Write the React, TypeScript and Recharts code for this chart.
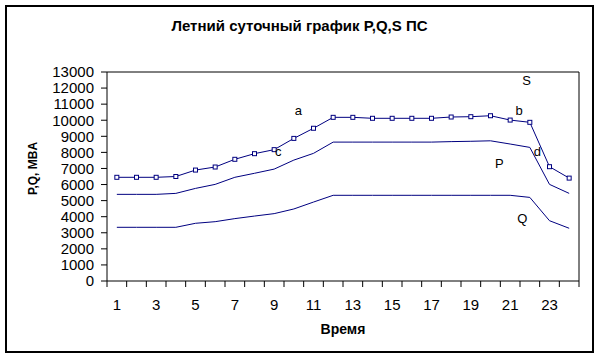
import React from 'react';
import {
    LineChart,
    Line,
    XAxis,
    YAxis,
    ReferenceLine,
    ReferenceDot,
    Label,
} from 'recharts';

// Часы суток
const hours = [1, 2, 3, 4, 5, 6, 7, 8, 9, 10, 11, 12, 13, 14, 15, 16, 17, 18, 19, 20, 21, 22, 23, 24];

// Полная мощность S, МВА
const sValues = [6450, 6450, 6450, 6500, 6900, 7090, 7570, 7920, 8170, 8870, 9500, 10180, 10180, 10120, 10120, 10120, 10120, 10200, 10220, 10280, 10010, 9870, 7110, 6400];
// Активная мощность P
const pValues = [5390, 5390, 5390, 5450, 5760, 6010, 6450, 6700, 6960, 7520, 7940, 8640, 8640, 8640, 8640, 8640, 8640, 8670, 8690, 8720, 8520, 8310, 6010, 5450];
// Реактивная мощность Q
const qValues = [3340, 3340, 3340, 3340, 3590, 3690, 3880, 4040, 4190, 4480, 4910, 5330, 5330, 5330, 5330, 5330, 5330, 5330, 5330, 5330, 5330, 5200, 3750, 3280];

const yTicks = [0, 1000, 2000, 3000, 4000, 5000, 6000, 7000, 8000, 9000, 10000, 11000, 12000, 13000];
const hourLabels = [1, 3, 5, 7, 9, 11, 13, 15, 17, 19, 21, 23];
// границы часовых интервалов (штрихи на оси)
const hourBounds = [0.5, 1.5, 2.5, 3.5, 4.5, 5.5, 6.5, 7.5, 8.5, 9.5, 10.5, 11.5, 12.5, 13.5, 14.5, 15.5, 16.5, 17.5, 18.5, 19.5, 20.5, 21.5, 22.5, 23.5, 24.5];

// подписи на поле графика
const noteText = ['a', 'c', 'S', 'b', 'd', 'P', 'Q'];
const noteHour = [10.23, 9.21, 21.84, 21.45, 22.38, 20.45, 21.62];
const noteValue = [10590, 8040, 12500, 10590, 8040, 7320, 3900];

const FONT = 'Arial, "Liberation Sans", sans-serif';
const NAVY = '#000080';

const chartData = hours.map((hour, i) => ({
    hour,
    s: sValues[i],
    p: pValues[i],
    q: qValues[i],
}));

// квадратный маркер
const SquareDot = (props: any) => {
    const { cx, cy } = props;
    if (cx == null || cy == null) return null;
    return <rect x={cx - 2} y={cy - 2} width={4} height={4} fill="#fff" stroke={NAVY} strokeWidth={1} />;
};

export default function App() {
    return (
        <div style={{ position: 'absolute', left: 0, top: 0, width: 599, height: 356, background: '#fff', fontFamily: FONT }}>
            <div
                style={{
                    position: 'absolute',
                    left: 5,
                    top: 5,
                    width: 589,
                    height: 348,
                    border: '2px solid #000',
                    boxSizing: 'border-box',
                }}
            />
            <div
                style={{
                    position: 'absolute',
                    left: 0,
                    top: 18,
                    width: 599,
                    textAlign: 'center',
                    fontSize: 15,
                    lineHeight: '15px',
                    fontWeight: 'bold',
                    color: '#000',
                }}
            >
                Летний суточный график P,Q,S ПС
            </div>

            <div style={{ position: 'absolute', left: 0, top: 0 }}>
                <LineChart width={599} height={356} data={chartData} margin={{ top: 72, right: 20, left: 0, bottom: 0 }}>
                    <XAxis
                        xAxisId="bounds"
                        type="number"
                        dataKey="hour"
                        domain={[0.5, 24.5]}
                        ticks={hourBounds}
                        interval={0}
                        height={7}
                        tickSize={6}
                        tick={() => <g />}
                        axisLine={{ stroke: '#000' }}
                        tickLine={{ stroke: '#000' }}
                    />
                    <XAxis
                        xAxisId="hours"
                        type="number"
                        dataKey="hour"
                        domain={[0.5, 24.5]}
                        ticks={hourLabels}
                        interval={0}
                        height={68}
                        tickSize={6}
                        tickMargin={5}
                        axisLine={false}
                        tickLine={false}
                        tick={{ fill: '#000', fontSize: 15, fontFamily: FONT }}
                    >
                        <Label
                            content={(props: any) => {
                                const vb = props.viewBox;
                                return (
                                    <text
                                        x={vb.x + vb.width / 2}
                                        y={vb.y + 46}
                                        textAnchor="middle"
                                        fontSize={14}
                                        fontWeight="bold"
                                        fontFamily={FONT}
                                        fill="#000"
                                    >
                                        Время
                                    </text>
                                );
                            }}
                        />
                    </XAxis>
                    <YAxis
                        type="number"
                        domain={[0, 13000]}
                        ticks={yTicks}
                        interval={0}
                        width={107}
                        tickSize={6}
                        tickMargin={7}
                        axisLine={{ stroke: '#000' }}
                        tickLine={{ stroke: '#000' }}
                        tick={{ fill: '#000', fontSize: 15, fontFamily: FONT }}
                    >
                        <Label
                            content={(props: any) => {
                                const vb = props.viewBox;
                                const cx = vb.x + 33;
                                const cy = vb.y + vb.height / 2 - 8;
                                return (
                                    <text
                                        x={cx}
                                        y={cy}
                                        transform={`rotate(-90 ${cx} ${cy})`}
                                        textAnchor="middle"
                                        dominantBaseline="central"
                                        fontSize={12}
                                        fontWeight="bold"
                                        fontFamily={FONT}
                                        fill="#000"
                                    >
                                        P,Q, MBA
                                    </text>
                                );
                            }}
                        />
                    </YAxis>

                    {/* рамка области построения */}
                    <ReferenceLine xAxisId="bounds" y={13000} stroke="#000" strokeWidth={1} />
                    <ReferenceLine xAxisId="bounds" x={24.5} stroke="#000" strokeWidth={1} />

                    <Line xAxisId="bounds" type="linear" dataKey="q" stroke={NAVY} strokeWidth={1} dot={false} isAnimationActive={false} />
                    <Line xAxisId="bounds" type="linear" dataKey="p" stroke={NAVY} strokeWidth={1} dot={false} isAnimationActive={false} />
                    <Line xAxisId="bounds" type="linear" dataKey="s" stroke={NAVY} strokeWidth={1} dot={<SquareDot />} isAnimationActive={false} />

                    {noteText.map((t, i) => (
                        <ReferenceDot
                            key={t}
                            xAxisId="bounds"
                            x={noteHour[i]}
                            y={noteValue[i]}
                            r={0}
                            fill="none"
                            stroke="none"
                            label={{ value: t, position: 'center', fontSize: 13, fill: '#000', fontFamily: FONT }}
                        />
                    ))}
                </LineChart>
            </div>
        </div>
    );
}
